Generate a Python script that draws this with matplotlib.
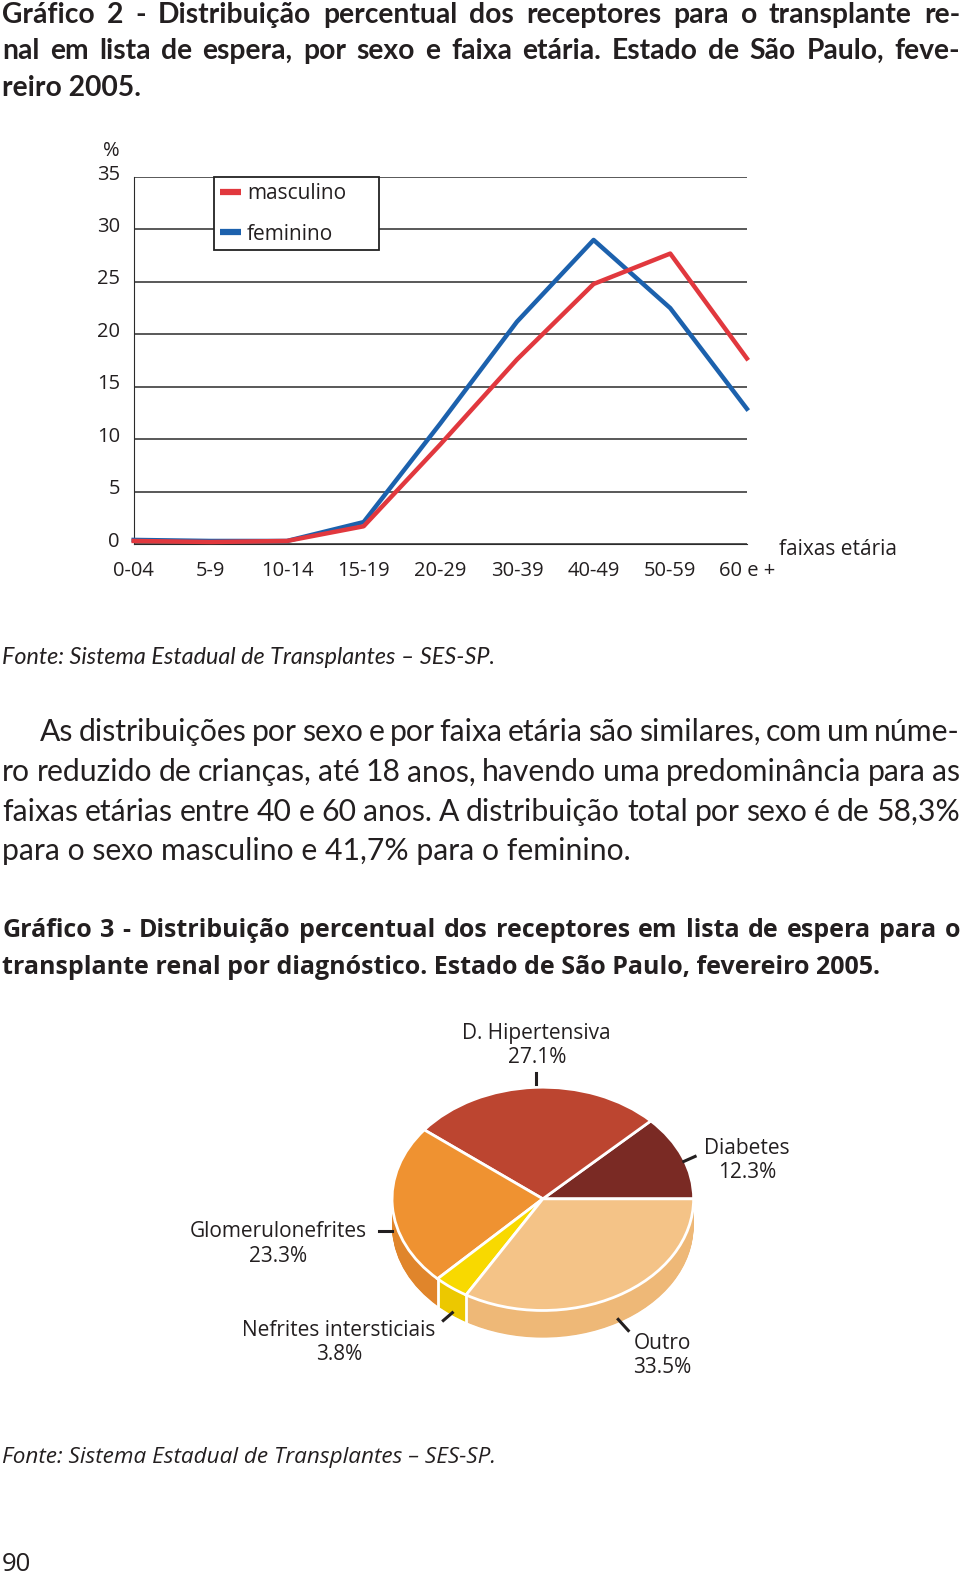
import numpy as np
import matplotlib
matplotlib.use('Agg')
import matplotlib.pyplot as plt
from matplotlib.lines import Line2D
import matplotlib.transforms as mtransforms

# Dados do grafico 2 (%)
faixas = ['0-04', '5-9', '10-14', '15-19', '20-29', '30-39', '40-49', '50-59', '60 e +']
masculino = [0.3, 0.2, 0.3, 1.7, 9.5, 17.6, 24.8, 27.7, 17.7]
feminino = [0.4, 0.3, 0.3, 2.1, 11.5, 21.2, 29.0, 22.5, 12.9]

# Dados do grafico 3 (%)
diagnosticos = ['Diabetes', 'D. Hipertensiva', 'Glomerulonefrites', 'Nefrites intersticiais', 'Outro']
percentuais = [12.3, 27.1, 23.3, 3.8, 33.5]

cor_texto = '#231f20'
vermelho = '#e1383e'
azul = '#1c61ad'
cores_topo = ['#7a2a24', '#bc4530', '#ef9231', '#f8d900', '#f4c387']
cores_lado = ['#65221d', '#a33a28', '#e0852b', '#ecc800', '#eeb877']

W, H = 955, 1568  # coordenadas de referencia da pagina


def fx(p):
    return p / W


def fy(p):
    return 1 - p / H


fig = plt.figure(figsize=(9.6, 15.77), dpi=100)
fig.patch.set_facecolor('white')
renderer = fig.canvas.get_renderer()


def linha(txt, x0, y, x1=None, **kw):
    kw.setdefault('color', cor_texto)
    if x1 is None:
        fig.text(fx(x0), fy(y), txt, va='baseline', **kw)
        return
    # linha justificada: distribui as palavras entre x0 e x1
    palavras = txt.split(' ')
    objs = [fig.text(0, fy(y), p, va='baseline', **kw) for p in palavras]
    larg = [o.get_window_extent(renderer).width for o in objs]
    fw = fig.bbox.width
    span = (x1 - x0) * fw / W
    gap = (span - sum(larg)) / (len(palavras) - 1)
    pos = x0 * fw / W
    for o, w in zip(objs, larg):
        o.set_x(pos / fw)
        pos += w + gap


titulo = dict(family='Lato', fontweight='bold', fontsize=20.3)
linha('Gráfico 2 - Distribuição percentual dos receptores para o transplante re-', 2, 23, 955, **titulo)
linha('nal em lista de espera, por sexo e faixa etária. Estado de São Paulo, feve-', 2, 59, 955, **titulo)
linha('reiro 2005.', 2, 95, **titulo)

# ---- grafico de linhas
ax = fig.add_axes([fx(133), fy(541), fx(743) - fx(133), fy(176) - fy(541)])
x = np.arange(len(faixas))
ax.plot(x, feminino, color=azul, lw=3.2, clip_on=False, zorder=3)
ax.plot(x, masculino, color=vermelho, lw=3.2, clip_on=False, zorder=4)
ax.set_xlim(0, len(faixas) - 1)
ax.set_ylim(0, 35)
ax.set_yticks(range(0, 36, 5))
ax.set_xticks(x, faixas)
ax.yaxis.grid(True, color='#2b2b2b', lw=1.1)
ax.set_axisbelow(True)
for s in ['top', 'right']:
    ax.spines[s].set_visible(False)
ax.spines['left'].set_color('#2b2b2b')
ax.spines['bottom'].set_color('#2b2b2b')
ax.tick_params(axis='y', length=0, labelsize=14.5, pad=10, labelcolor=cor_texto)
ax.tick_params(axis='x', length=0, labelsize=14.5, pad=12, labelcolor=cor_texto)
for lab in ax.get_yticklabels():
    lab.set_family('Open Sans')
    lab.set_transform(lab.get_transform() + mtransforms.ScaledTranslation(0, 5 / 100, fig.dpi_scale_trans))
for lab in ax.get_xticklabels():
    lab.set_family('Open Sans')

handles = [Line2D([], [], color=vermelho, lw=4.5, solid_capstyle='butt'),
           Line2D([], [], color=azul, lw=4.5, solid_capstyle='butt')]
leg = ax.legend(handles, ['masculino', 'feminino'], loc='upper left',
                bbox_to_anchor=((213 - 133) / 610, 0, (377 - 213) / 610, 1.0), mode='expand',
                fancybox=False, edgecolor='#222222', framealpha=1,
                prop=dict(family='Open Sans', size=15), handlelength=1.0, handletextpad=0.3,
                labelspacing=0.95, borderpad=0.28, borderaxespad=0)
leg.get_frame().set_linewidth(1.3)
for t in leg.get_texts():
    t.set_color(cor_texto)

fig.text(fx(111), fy(150), '%', ha='center', va='center', fontsize=14.5, family='Open Sans', color=cor_texto)
fig.text(fx(775), fy(546), 'faixas etária', ha='left', va='center', fontsize=15, family='Open Sans', color=cor_texto)

fonte = 'Fonte: Sistema Estadual de Transplantes – SES-SP.'
linha(fonte, 2, 660, family='Lato', style='italic', fontsize=16.8)

corpo = dict(family='Lato', fontsize=21.7)
linha('As distribuições por sexo e por faixa etária são similares, com um núme-', 40, 737, 955, **corpo)
linha('ro reduzido de crianças, até 18 anos, havendo uma predominância para as', 2, 777, 955, **corpo)
linha('faixas etárias entre 40 e 60 anos. A distribuição total por sexo é de 58,3%', 2, 816, 955, **corpo)
linha('para o sexo masculino e 41,7% para o feminino.', 2, 855, **corpo)

titulo3 = dict(family='Open Sans', fontweight='bold', fontsize=18)
linha('Gráfico 3 - Distribuição percentual dos receptores em lista de espera para o', 2, 932, 955, **titulo3)
linha('transplante renal por diagnóstico. Estado de São Paulo, fevereiro 2005.', 2, 968, **titulo3)

# ---- grafico de pizza com profundidade
pax = fig.add_axes([fx(240), fy(1400), fx(840) - fx(240), fy(1000) - fy(1400)])
prof = 27 / 111
for k in np.linspace(-prof, 0, 40)[:-1]:
    pax.pie(percentuais, colors=cores_lado, startangle=0, counterclock=True,
            center=(0, k), wedgeprops=dict(linewidth=0))
pax.pie(percentuais, colors=cores_topo, startangle=0, counterclock=True,
        wedgeprops=dict(edgecolor='white', linewidth=2))
ang = np.deg2rad(np.cumsum(percentuais) * 3.6)
for a in ang:
    if np.sin(a) < -0.05:
        pax.plot([np.cos(a), np.cos(a)], [np.sin(a), np.sin(a) - prof], color='white', lw=2)
pax.set_aspect('auto')
pax.set_xlim(-2, 2)
pax.set_ylim(-(1400 - 1192) / 111, (1192 - 1000) / 111)
pax.axis('off')

rotulos = {
    'Diabetes': ((1.353, 0.342), [(0.935, 0.335), (1.01, 0.38)]),
    'D. Hipertensiva': ((-0.04, 1.37), [(-0.047, 1.03), (-0.047, 1.125)]),
    'Glomerulonefrites': ((-1.753, -0.405), [(-1.085, -0.288), (-1.0, -0.288)]),
    'Nefrites intersticiais': ((-1.353, -1.29), [(-0.66, -1.09), (-0.6, -1.02)]),
    'Outro': ((0.793, -1.40), [(0.5, -1.08), (0.567, -1.18)]),
}
for nome, p in zip(diagnosticos, percentuais):
    (tx, ty), seg = rotulos[nome]
    pax.text(tx, ty, f'{nome}\n{p:.1f}%', ha='center', va='center', fontsize=15,
             family='Open Sans', color=cor_texto, linespacing=1.2)
    pax.plot([seg[0][0], seg[1][0]], [seg[0][1], seg[1][1]], color=cor_texto, lw=2.2, clip_on=False)

linha(fonte, 2, 1455, family='Open Sans', style='italic', fontsize=16.2)
linha('90', 2, 1562, family='Open Sans', fontsize=18.5)

fig.savefig('out.png', dpi=100, facecolor='white')
